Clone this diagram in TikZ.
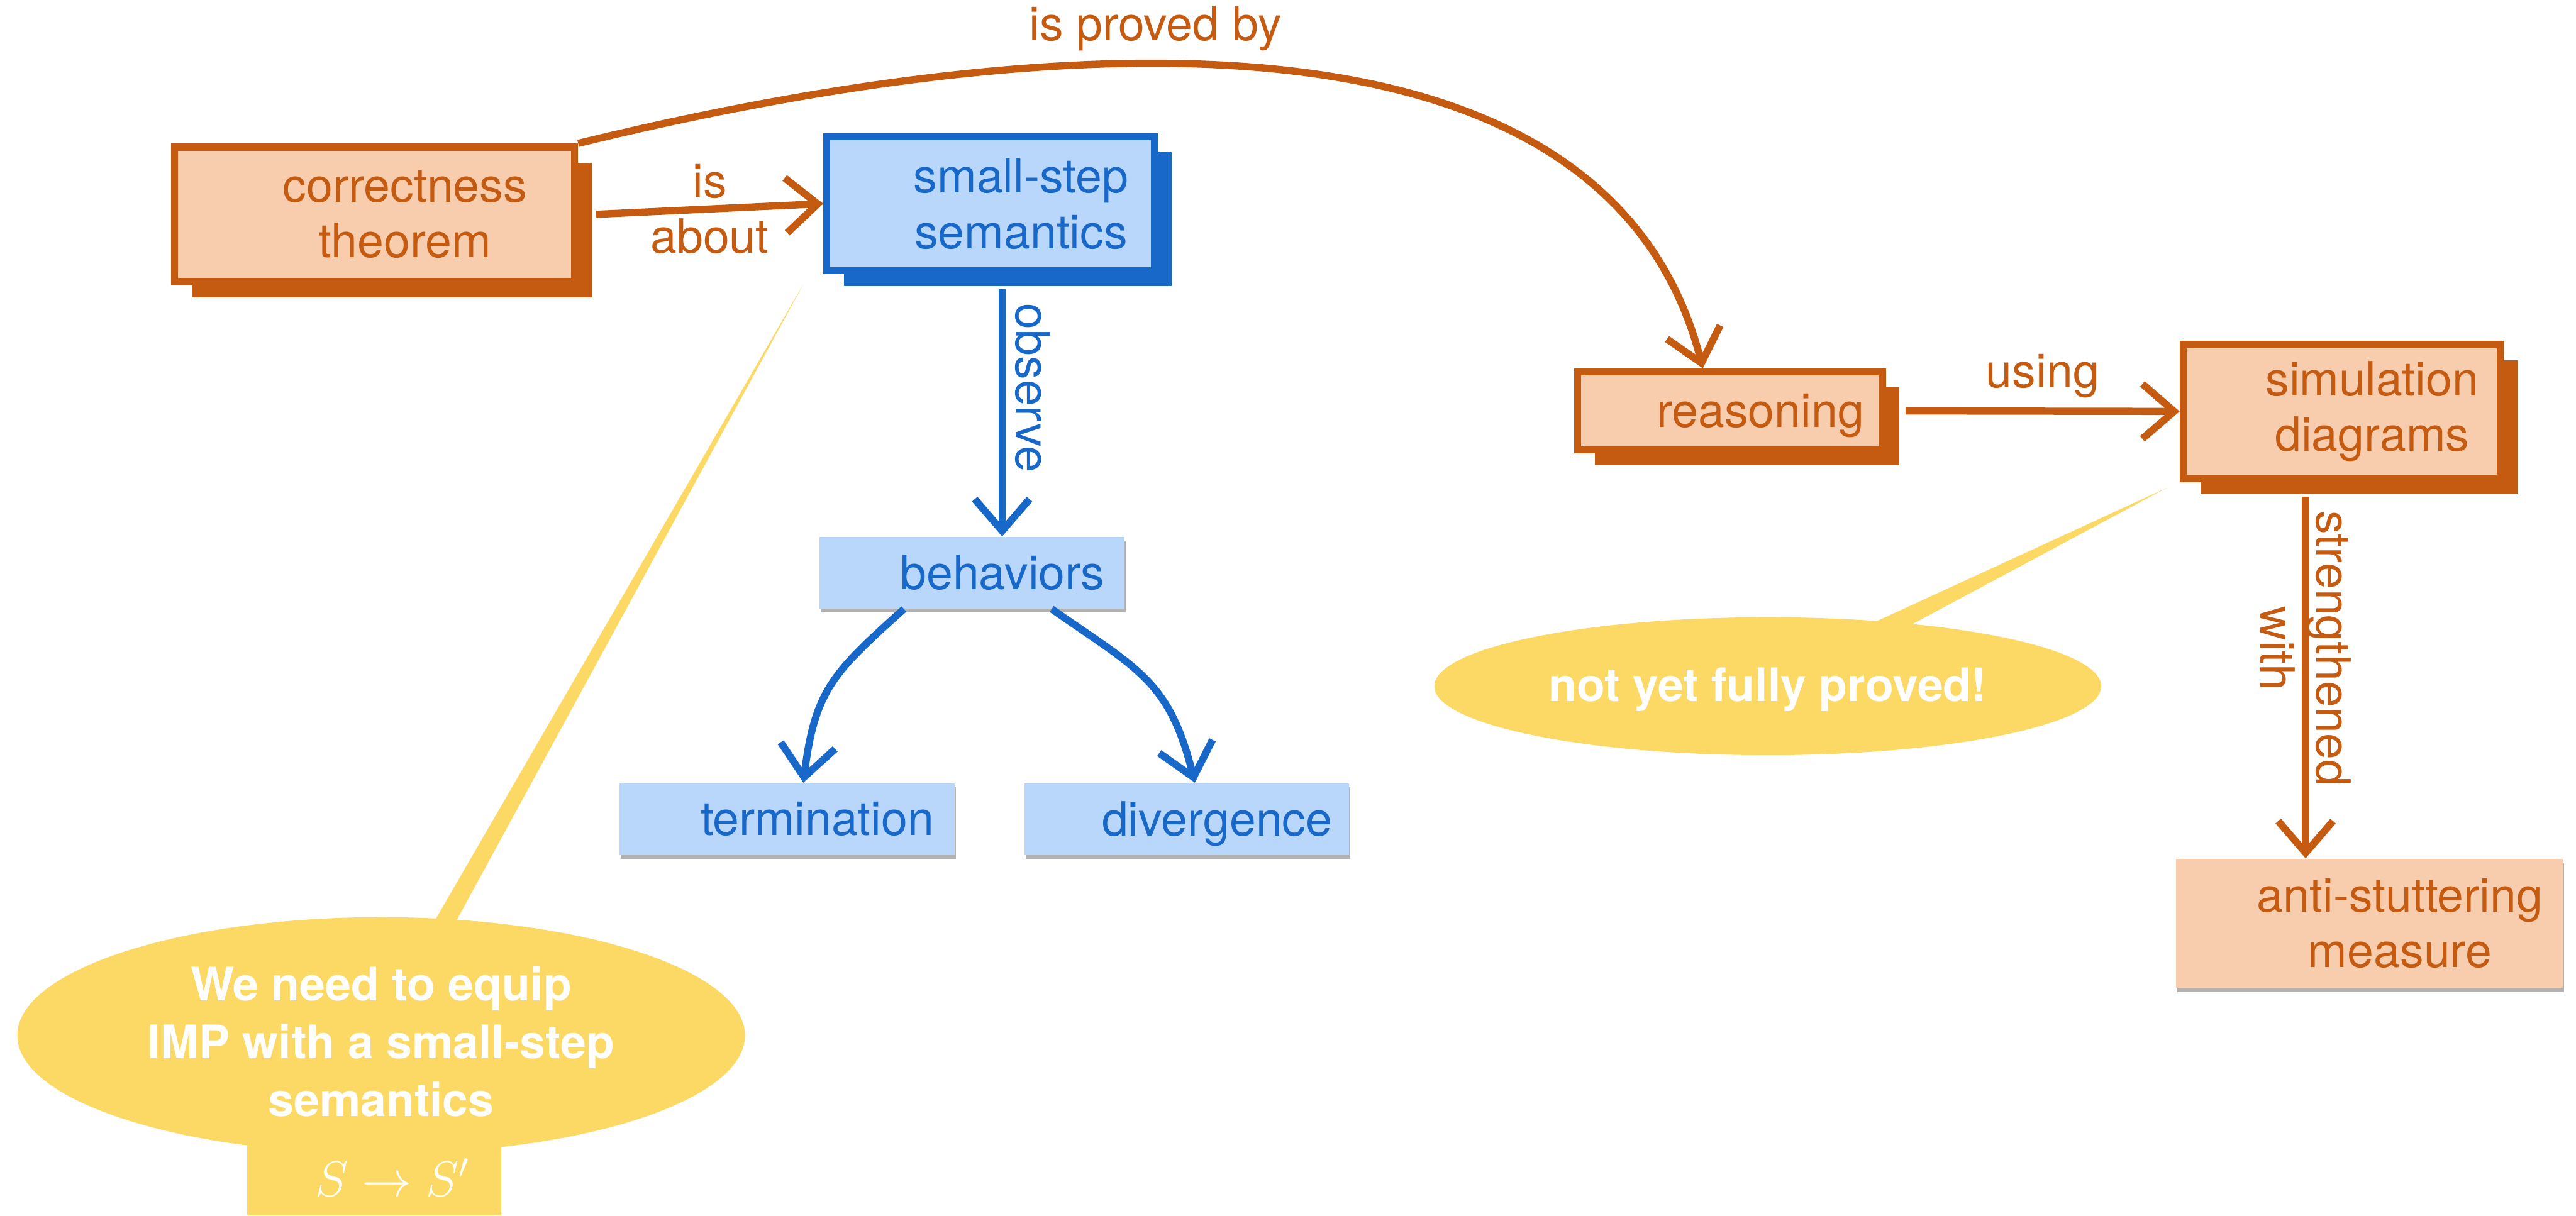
\documentclass[tikz,border=0pt]{standalone}
\usepackage{fontspec}
\setmainfont{TeX Gyre Heros}
\usetikzlibrary{arrows.meta,shadows}

\definecolor{corange}{RGB}{197,90,17}
\definecolor{cpeach}{RGB}{248,205,174}
\definecolor{cblue}{RGB}{23,104,201}
\definecolor{clightblue}{RGB}{185,215,250}
\definecolor{cyellow}{RGB}{252,217,100}

\newcommand{\keyfont}{\fontsize{16.4}{19.3}\selectfont}
\newcommand{\notefont}{\fontsize{16}{20}\selectfont\bfseries}
\newcommand{\mathfont}{\fontsize{17}{20}\selectfont}

\tikzset{
  % boxes with a thick border and a solid shadow
  obox/.style={draw=corange, line width=2.5pt, fill=cpeach,
    drop shadow={shadow xshift=0.21cm, shadow yshift=-0.19cm, fill=corange, opacity=1}},
  bbox/.style={draw=cblue, line width=2.5pt, fill=clightblue,
    drop shadow={shadow xshift=0.21cm, shadow yshift=-0.19cm, fill=cblue, opacity=1}},
  % plain boxes with a soft shadow
  ofill/.style={fill=cpeach, draw=none,
    drop shadow={shadow xshift=0.4pt, shadow yshift=-1.4pt, fill=black, opacity=0.3}},
  bfill/.style={fill=clightblue, draw=none,
    drop shadow={shadow xshift=0.4pt, shadow yshift=-1.4pt, fill=black, opacity=0.3}},
  % box texts sit a little right of centre
  otext/.style={text=corange, font=\keyfont, align=center, xshift=0.37cm, draw=none, fill=none},
  btext/.style={text=cblue, font=\keyfont, align=center, xshift=0.37cm, draw=none, fill=none},
  olabel/.style={text=corange, font=\keyfont, align=center},
  blabel/.style={text=cblue, font=\keyfont, align=center},
  oarrow/.style={draw=corange, line width=2.5pt, -{Straight Barb[length=11pt,width=19pt]}},
  barrow/.style={draw=cblue, line width=2.5pt, -{Straight Barb[length=11pt,width=19pt]}},
  note/.style={fill=cyellow},
  notetext/.style={text=white, font=\notefont, align=center},
}

\begin{document}
\begin{tikzpicture}[x=0.02cm, y=0.02cm]
  \useasboundingbox (0,0) rectangle (1568,-740);

  % Callout about the small-step semantics
  \fill[note] (489,-173) -- (241.8,-600) -- (256.3,-600) -- cycle;
  \fill[note] (232,-630.4) ellipse [x radius=4.43cm, y radius=1.44cm];
  \fill[note] (150.4,-680) rectangle (305.2,-740);
  \node[notetext] (needs) at (232,-634) {We need to equip\\IMP with a small-step\\semantics};
  \node[text=white, font=\mathfont] (step) at (239,-717) {$S \to S'$};

  % Callout about the simulation diagrams
  \fill[note] (1319,-297) -- (1094.9,-400) -- (1126.6,-400) -- cycle;
  \fill[note] (1076,-417.8) ellipse [x radius=4.06cm, y radius=0.84cm];
  \node[notetext] (notyet) at (1076,-420) {not yet fully proved!};

  % Boxes
  \node[obox, minimum width=4.87cm, minimum height=1.64cm,
    label={[otext]center:{correctness\\theorem}}] (correct) at (228,-130.5) {};
  \node[bbox, minimum width=3.99cm, minimum height=1.63cm,
    label={[btext]center:{small-step\\semantics}}] (small) at (603,-124) {};
  \node[bfill, minimum width=3.71cm, minimum height=0.87cm,
    label={[btext]center:behaviors}] (behav) at (591.7,-348.7) {};
  \node[bfill, minimum width=4.08cm, minimum height=0.874cm,
    label={[btext]center:termination}] (term) at (479,-498.7) {};
  \node[bfill, minimum width=3.95cm, minimum height=0.874cm,
    label={[btext, yshift=-0.06cm]center:divergence}] (diverg) at (722.3,-498.7) {};
  \node[obox, minimum width=3.71cm, minimum height=0.95cm,
    label={[otext, yshift=-0.06cm]center:reasoning}] (reason) at (1053,-250.2) {};
  \node[obox, minimum width=3.86cm, minimum height=1.63cm,
    label={[otext]center:{simulation\\diagrams}}] (sim) at (1425.4,-250.5) {};
  \node[ofill, minimum width=4.71cm, minimum height=1.57cm,
    label={[otext]center:{anti-stuttering\\measure}}] (anti) at (1442.3,-562.2) {};

  % Connectors
  \draw[oarrow] ([xshift=0.22cm]correct.east) -- (small.west)
    node[midway, olabel] (isabout) {is\\about};
  \draw[oarrow] (correct.north east) .. controls (610,-24) and (975,16) .. ([xshift=-0.33cm]reason.north)
    node[pos=0.42, above, olabel] (provedby) {is proved by};
  \draw[oarrow] ([xshift=0.24cm]reason.east) -- (sim.west)
    node[midway, above, olabel] (using) {using};

  \coordinate (obs) at ([xshift=0.14cm, yshift=-0.18cm]small.south);
  \draw[barrow] (obs) -- (obs |- behav.north)
    node[pos=0.4, rotate=-90, anchor=south, blabel] (observe) {observe};
  \draw[barrow] ([xshift=-0.83cm]behav.south) to[out=222, in=83, looseness=1.2] ([xshift=0.2cm]term.north);
  \draw[barrow] ([xshift=0.97cm]behav.south) to[out=-35, in=104, looseness=1.2] ([xshift=0.1cm]diverg.north);

  \coordinate (str) at ([xshift=-0.44cm, yshift=-0.18cm]sim.south);
  \draw[oarrow] (str) -- (str |- anti.north)
    node[pos=0.42, rotate=-90, olabel] (strength) {strengthened\\with};
\end{tikzpicture}
\end{document}
